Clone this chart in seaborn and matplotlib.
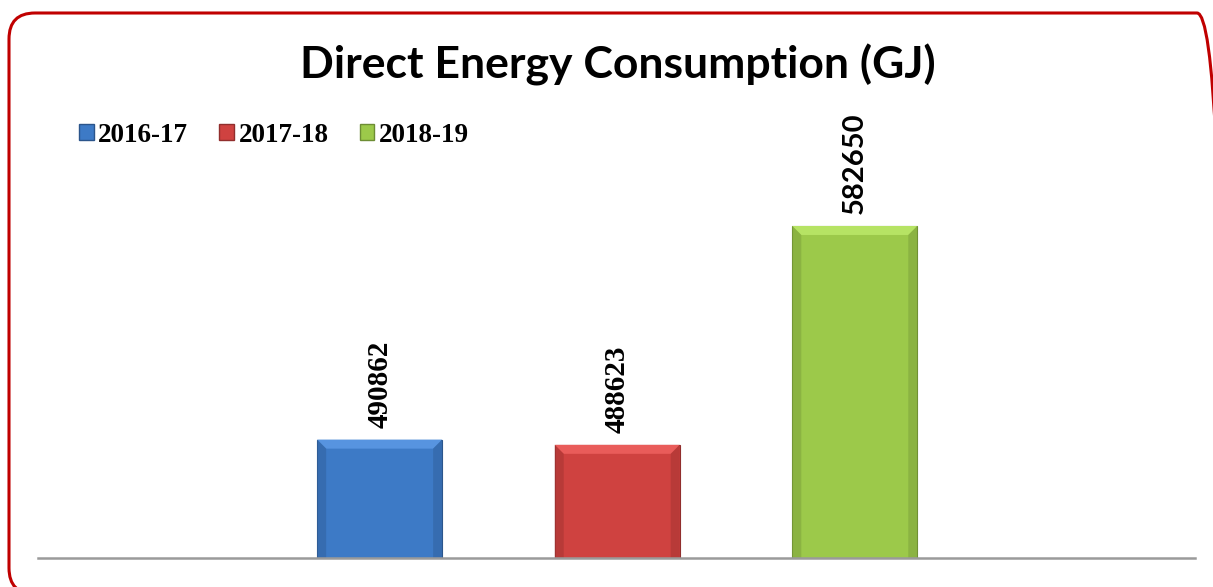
import matplotlib
matplotlib.use("Agg")
import matplotlib.pyplot as plt
import matplotlib.colors as mcolors
from matplotlib.patches import FancyBboxPatch, Polygon, Patch
from matplotlib.transforms import IdentityTransform
import seaborn as sns
import pandas as pd

# ---------------- data ----------------
years = ["2016-17", "2017-18", "2018-19"]
consumption = [490862, 488623, 582650]
bar_colors = ["#3d7ac6", "#cf4240", "#9cc94a"]

df = pd.DataFrame({"Year": years, "GJ": consumption})

# ---------------- figure ----------------
sns.set_style("white")
plt.rcParams["font.family"] = ["Lato", "DejaVu Sans"]
plt.rcParams["text.color"] = "black"

W, H = 1213, 587
fig = plt.figure(figsize=(W / 100, H / 100), dpi=100)

# rounded red frame in pixel units (runs off the right and bottom edges)
frame = FancyBboxPatch((9, H - 594), 1214, 581,
                       boxstyle="round,pad=0,rounding_size=26",
                       transform=IdentityTransform(), fill=False,
                       edgecolor="#c00000", linewidth=2.2, clip_on=False)
fig.patches.append(frame)

ax = fig.add_axes([38 / W, 1 - 558 / H, (1195 - 38) / W, (558 - 150) / H])
ax.patch.set_alpha(0)

sns.barplot(data=df, x="Year", y="GJ", hue="Year", palette=bar_colors,
            width=0.526, legend=False, ax=ax, saturation=1)

ax.set_xlim(-1.438, 3.432)
ax.set_ylim(440000, 615300)
ax.set_xticks([])
ax.set_yticks([])
ax.set_xlabel("")
ax.set_ylabel("")
for s in ["top", "left", "right"]:
    ax.spines[s].set_visible(False)
ax.spines["bottom"].set_color("#9a9a9a")
ax.spines["bottom"].set_linewidth(1.8)

# bevel effect on each bar, derived from the bar patches
bx = 9 / 237.5
by = 9 * 429.6
for p, c in zip(ax.patches, bar_colors):
    x0, y0 = p.get_x(), p.get_y()
    x1, y1 = x0 + p.get_width(), y0 + p.get_height()
    base = mcolors.to_rgb(c)
    light = tuple(min(1, v + 0.10) for v in base)
    dark = tuple(v * 0.82 for v in base)
    darker = tuple(v * 0.7 for v in base)
    p.set_edgecolor(darker)
    p.set_linewidth(0.8)
    ax.add_patch(Polygon([(x0, y1), (x1, y1), (x1 - bx, y1 - by), (x0 + bx, y1 - by)],
                         closed=True, facecolor=light, edgecolor="none"))
    ax.add_patch(Polygon([(x0, y1), (x0 + bx, y1 - by), (x0 + bx, y0 + by), (x0, y0)],
                         closed=True, facecolor=dark, edgecolor="none", alpha=0.6))
    ax.add_patch(Polygon([(x1, y1), (x1 - bx, y1 - by), (x1 - bx, y0 + by), (x1, y0)],
                         closed=True, facecolor=dark, edgecolor="none", alpha=0.6))
    ax.add_patch(Polygon([(x0, y0), (x0 + bx, y0 + by), (x1 - bx, y0 + by), (x1, y0)],
                         closed=True, facecolor=darker, edgecolor="none", alpha=0.7))

# value labels (first two in serif, last in sans like the original)
label_fonts = [["Liberation Serif", "DejaVu Serif"],
               ["Liberation Serif", "DejaVu Serif"],
               ["Lato", "DejaVu Sans"]]
for i, (v, fam) in enumerate(zip(consumption, label_fonts)):
    ax.text(i, v + 5000, str(v), rotation=90, ha="center", va="bottom",
            fontsize=21, fontweight="bold", family=fam, color="black")

# title
fig.text(618 / W, 1 - 65 / H, "Direct Energy Consumption (GJ)", ha="center",
         va="center", fontsize=32, fontweight="bold", color="black",
         family=["Lato", "DejaVu Sans"])

# legend
handles = [Patch(facecolor=c, edgecolor=tuple(v * 0.7 for v in mcolors.to_rgb(c)),
                 label=y) for c, y in zip(bar_colors, years)]
leg = fig.legend(handles=handles, loc="center left", bbox_to_anchor=(55 / W, 1 - 135 / H),
                 ncol=3, frameon=False, handlelength=0.55, handleheight=0.55,
                 handletextpad=0.15, columnspacing=1.15,
                 prop={"family": ["Liberation Serif", "DejaVu Serif"],
                       "weight": "bold", "size": 19.5})
for t in leg.get_texts():
    t.set_color("black")

fig.savefig("out.png", dpi=100)
